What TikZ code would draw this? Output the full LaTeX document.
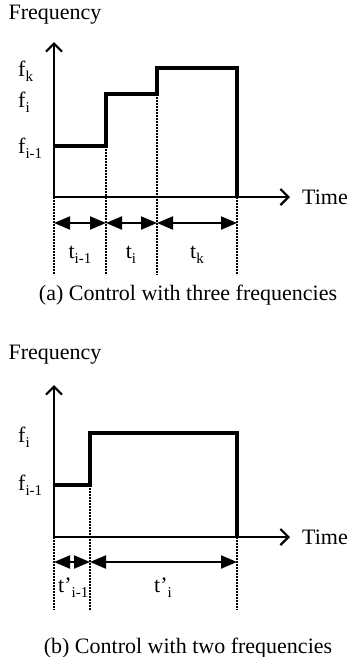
\documentclass[tikz,border=0pt]{standalone}
\usepackage{fontspec}
\setmainfont{Liberation Serif}
\usetikzlibrary{arrows.meta}
\newcommand{\lo}[1]{\raisebox{-5pt}{\fontsize{15}{15}\selectfont #1}}
\tikzset{
  lbl/.style={inner sep=0pt, font=\fontsize{22}{26}\selectfont},
  axis/.style={line width=2pt, -{Straight Barb[length=8pt,width=16pt,line width=2.2pt]}},
  stair/.style={line width=4.4pt, line join=miter},
  guide/.style={line width=1.8pt, dash pattern=on 1.6pt off 1.4pt},
  span/.style={line width=2pt, {Triangle[length=16pt,width=13pt]}-{Triangle[length=16pt,width=13pt]}},
}
\begin{document}
\begin{tikzpicture}[x=1pt,y=-1pt]
            \useasboundingbox (0,0) rectangle (352,657);

            % (a) three frequencies
            \node[lbl] (freqA) at (55,15) {Frequency};
            \coordinate (oA) at (54,197);
            \coordinate (yA) at (54,42);
            \coordinate (xA) at (290,197);
            \node[lbl, anchor=west] (timeA) at (302,197) {Time};
            \draw[axis] (oA) -- (yA);
            \draw[axis] (oA) -- (xA);

            \coordinate (a0) at (54,146);
            \coordinate (a1) at (106,146);
            \coordinate (a2) at (106,94);
            \coordinate (a3) at (157,94);
            \coordinate (a4) at (157,68);
            \coordinate (a5) at (237,68);
            \coordinate (a6) at (237,197);
            \draw[stair] (a0) -- (a1) -- (a2) -- (a3) -- (a4) -- (a5) -- (a6);

            \node[lbl, anchor=base west] (fkA) at (18,76) {f\lo{k}};
            \node[lbl, anchor=base west] (fiA) at (18,107) {f\lo{i}};
            \node[lbl, anchor=base west] (fhA) at (18,153) {f\lo{i-1}};

            \foreach \x/\top in {54/197,106/146,157/94,237/197}
                \draw[guide] (\x,\top) -- (\x,275);

            \coordinate (pA0) at (54,223);
            \coordinate (pA1) at (106,223);
            \coordinate (pA2) at (157,223);
            \coordinate (pA3) at (237,223);
            \draw[span] (pA0) -- (pA1);
            \draw[span] (pA1) -- (pA2);
            \draw[span] (pA2) -- (pA3);
            \node[lbl, anchor=base] (thA) at (80,258) {t\lo{i-1}};
            \node[lbl, anchor=base] (tiA) at (131,258) {t\lo{i}};
            \node[lbl, anchor=base] (tkA) at (197,258) {t\lo{k}};

            \node[lbl] (capA) at (188,295) {(a) Control with three frequencies};

            % (b) two frequencies
            \node[lbl] (freqB) at (55,355) {Frequency};
            \coordinate (oB) at (54,537);
            \coordinate (yB) at (54,385);
            \coordinate (xB) at (290,537);
            \node[lbl, anchor=west] (timeB) at (302,537) {Time};
            \draw[axis] (oB) -- (yB);
            \draw[axis] (oB) -- (xB);

            \coordinate (b0) at (54,485);
            \coordinate (b1) at (90,485);
            \coordinate (b2) at (90,433);
            \coordinate (b3) at (237,433);
            \coordinate (b4) at (237,537);
            \draw[stair] (b0) -- (b1) -- (b2) -- (b3) -- (b4);

            \node[lbl, anchor=base west] (fiB) at (18,442) {f\lo{i}};
            \node[lbl, anchor=base west] (fhB) at (18,490) {f\lo{i-1}};

            \foreach \x/\top in {54/537,90/485,237/537}
                \draw[guide] (\x,\top) -- (\x,610);

            \coordinate (pB0) at (54,562);
            \coordinate (pB1) at (90,562);
            \coordinate (pB2) at (237,562);
            \draw[span] (pB0) -- (pB1);
            \draw[span] (pB1) -- (pB2);
            \node[lbl, anchor=base west] (thB) at (58,592) {t'\lo{i-1}};
            \node[lbl, anchor=base] (tiB) at (163,592) {t'\lo{i}};

            \node[lbl] (capB) at (188,648) {(b) Control with two frequencies};
\end{tikzpicture}
\end{document}
